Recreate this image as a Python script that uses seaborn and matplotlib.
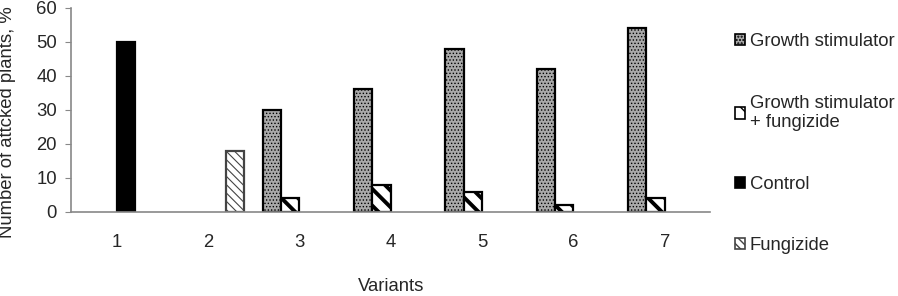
import numpy as np
import pandas as pd
import matplotlib
matplotlib.use('Agg')
import matplotlib.pyplot as plt
import seaborn as sns
from matplotlib.patches import Patch

# Values
variants = ['1', '2', '3', '4', '5', '6', '7']
series_names = ['Growth stimulator', 'Growth stimulator\n+ fungizide', 'Control', 'Fungizide']
growth_stimulator = [np.nan, np.nan, 30, 36, 48, 42, 54]
growth_plus_fungizide = [np.nan, np.nan, 4, 8, 6, 2, 4]
control = [50, np.nan, np.nan, np.nan, np.nan, np.nan, np.nan]
fungizide = [np.nan, 18, np.nan, np.nan, np.nan, np.nan, np.nan]

rows = []
for name, vals in zip(series_names, [growth_stimulator, growth_plus_fungizide, control, fungizide]):
    for v, y in zip(variants, vals):
        rows.append({'Variant': v, 'Series': name, 'Value': y})
df = pd.DataFrame(rows)

sns.set_style('white')
plt.rcParams['font.family'] = ['Liberation Sans', 'DejaVu Sans']

styles = {
    'Growth stimulator': dict(facecolor='#a9a9a9', edgecolor='black', hatch='.....', lw=1.6, hlw=0.6),
    'Growth stimulator\n+ fungizide': dict(facecolor='white', edgecolor='black', hatch='\\\\', lw=1.6, hlw=2.8),
    'Control': dict(facecolor='black', edgecolor='black', hatch=None, lw=1.6, hlw=1.0),
    'Fungizide': dict(facecolor='white', edgecolor='#444444', hatch='\\\\\\\\', lw=1.6, hlw=0.8),
}

fs = 13.3
fig = plt.figure(figsize=(8.98, 2.96), dpi=100)
ax = fig.add_axes([0.079, 0.284, 0.712, 0.69])

sns.barplot(data=df, x='Variant', y='Value', hue='Series', order=variants,
            hue_order=series_names, width=0.8, dodge=True, errorbar=None,
            palette=['gray'] * 4, legend=False, ax=ax)

for cont, name in zip(ax.containers, series_names):
    st = styles[name]
    for p in cont:
        p.set_facecolor(st['facecolor'])
        p.set_edgecolor(st['edgecolor'])
        p.set_linewidth(st['lw'])
        if st['hatch']:
            p.set_hatch(st['hatch'])
            if hasattr(p, 'set_hatch_linewidth'):
                p.set_hatch_linewidth(st['hlw'])

ax.set_ylim(0, 60)
ax.set_yticks(range(0, 61, 10))
ax.set_xlim(-0.5, 6.5)
ax.tick_params(axis='y', labelsize=fs, length=4, color='#888888', left=True, pad=6)
ax.tick_params(axis='x', labelsize=fs, length=0, pad=16)
for s in ['top', 'right']:
    ax.spines[s].set_visible(False)
for s in ['left', 'bottom']:
    ax.spines[s].set_color('#888888')
    ax.spines[s].set_linewidth(1.2)
ax.set_xlabel('Variants', fontsize=fs, labelpad=19)
ax.set_ylabel('Number of attcked plants, %', fontsize=fs)
ax.yaxis.set_label_coords(-0.086, 0.44)

handles = []
for name in series_names:
    st = styles[name]
    h = Patch(facecolor=st['facecolor'], edgecolor=st['edgecolor'], hatch=st['hatch'], linewidth=1.2)
    handles.append(h)
fig.legend(handles, series_names, loc='upper left', bbox_to_anchor=(0.81, 0.912),
           frameon=False, fontsize=fs, handlelength=0.55, handleheight=0.55,
           handletextpad=0.25, labelspacing=2.4, borderaxespad=0)

fig.savefig('out.png', dpi=100)
